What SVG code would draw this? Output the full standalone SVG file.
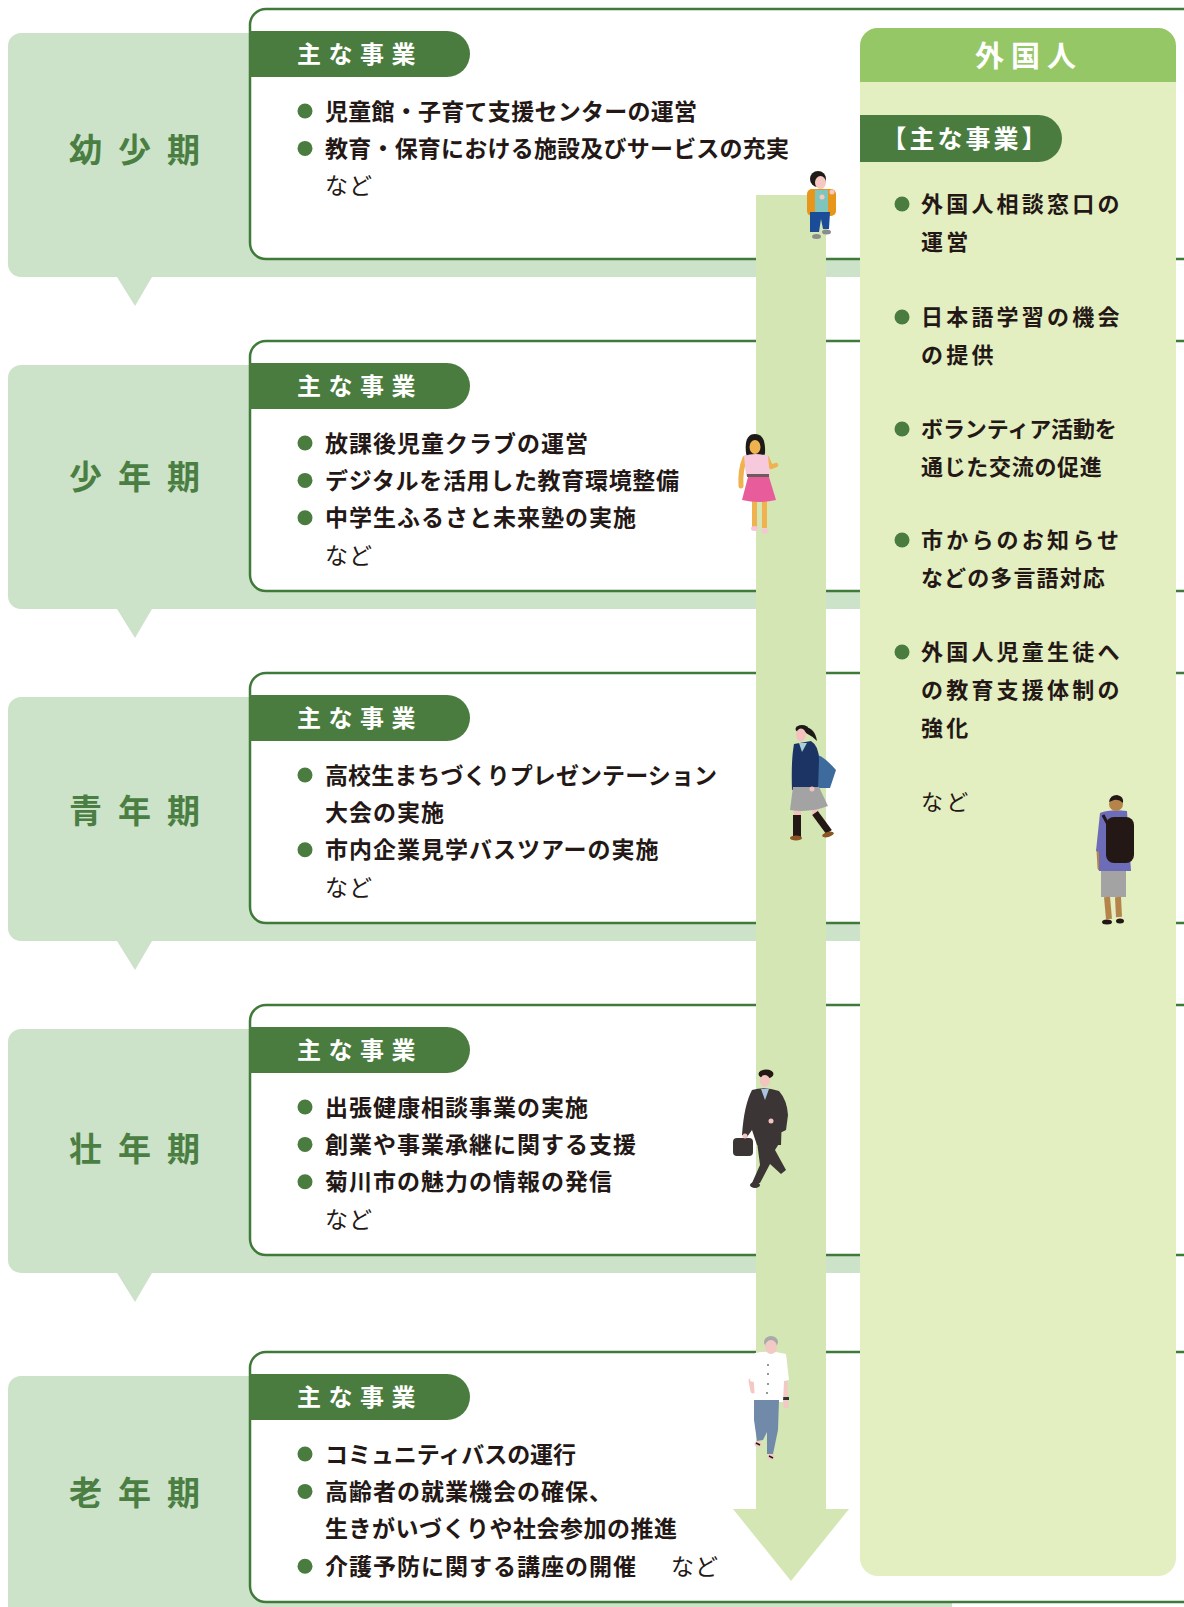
<svg xmlns="http://www.w3.org/2000/svg" width="1184" height="1607" viewBox="0 0 1184 1607">
<defs>
<style>
text{font-family:"Noto Sans CJK JP","Noto Sans",sans-serif}
.callout{fill:#cce3c9}
.card{fill:#ffffff;stroke:#3f7a39;stroke-width:2.5}
.tab{fill:#4a7c3f}
.tabt{fill:#ffffff;font-size:24px;font-weight:700;letter-spacing:7.5px}
.lbl{fill:#4b7e42;font-size:33px;font-weight:700;letter-spacing:16px}
.dot{fill:#4a7c3f}
.item{fill:#231815;font-size:23px;font-weight:700;letter-spacing:1px}
.etc{fill:#231815;font-size:23px;font-weight:400;letter-spacing:1px}
.fitem{fill:#231815;font-size:22px;font-weight:700;letter-spacing:3.2px}
.fetc{fill:#231815;font-size:22px;font-weight:400;letter-spacing:3.2px}
</style>
<!-- speech-bubble background with downward pointer -->
<path id="bubble" d="M21 24 H939 A13 13 0 0 1 952 37 V255 A13 13 0 0 1 939 268 H152 L135 297 L117 268 H21 A13 13 0 0 1 8 255 V37 A13 13 0 0 1 21 24 Z"/>
<!-- last bubble: no pointer, runs off the bottom -->
<path id="bubble-end" d="M21 24 H939 A13 13 0 0 1 952 37 V330 H8 V37 A13 13 0 0 1 21 24 Z"/>
<rect id="card" x="250" y="0" width="950" height="250" rx="16"/>
<path id="tab" d="M249 22 H447 A23 23 0 0 1 447 68 H249 Z"/>
</defs>

<!-- life stages -->
<g id="stage-infant" transform="translate(0,9)">
  <use href="#bubble" class="callout"/>
  <use href="#card" class="card"/>
  <use href="#tab" class="tab"/>
  <text class="tabt" x="297" y="54">主な事業</text>
  <text class="lbl" x="69" y="153">幼少期</text>
  <circle class="dot" cx="305" cy="102" r="7.5"/>
  <text class="item" x="325" y="110.5" textLength="373" lengthAdjust="spacing">児童館・子育て支援センターの運営</text>
  <circle class="dot" cx="305" cy="139.4" r="7.5"/>
  <text class="item" x="325" y="148" textLength="465" lengthAdjust="spacing">教育・保育における施設及びサービスの充実</text>
  <text class="etc" x="325" y="185.3">など</text>
</g>

<g id="stage-child" transform="translate(0,341)">
  <use href="#bubble" class="callout"/>
  <use href="#card" class="card"/>
  <use href="#tab" class="tab"/>
  <text class="tabt" x="297" y="54">主な事業</text>
  <text class="lbl" x="69" y="148">少年期</text>
  <circle class="dot" cx="305" cy="102" r="7.5"/>
  <text class="item" x="325" y="110.5">放課後児童クラブの運営</text>
  <circle class="dot" cx="305" cy="139.4" r="7.5"/>
  <text class="item" x="325" y="148" textLength="355" lengthAdjust="spacing">デジタルを活用した教育環境整備</text>
  <circle class="dot" cx="305" cy="176.8" r="7.5"/>
  <text class="item" x="325" y="185.3">中学生ふるさと未来塾の実施</text>
  <text class="etc" x="325" y="222.7">など</text>
</g>

<g id="stage-youth" transform="translate(0,673)">
  <use href="#bubble" class="callout"/>
  <use href="#card" class="card"/>
  <use href="#tab" class="tab"/>
  <text class="tabt" x="297" y="54">主な事業</text>
  <text class="lbl" x="69" y="150">青年期</text>
  <circle class="dot" cx="305" cy="102" r="7.5"/>
  <text class="item" x="325" y="110.5" textLength="393" lengthAdjust="spacing">高校生まちづくりプレゼンテーション</text>
  <text class="item" x="325" y="148">大会の実施</text>
  <circle class="dot" cx="305" cy="176.8" r="7.5"/>
  <text class="item" x="325" y="185.3">市内企業見学バスツアーの実施</text>
  <text class="etc" x="325" y="222.7">など</text>
</g>

<g id="stage-adult" transform="translate(0,1005)">
  <use href="#bubble" class="callout"/>
  <use href="#card" class="card"/>
  <use href="#tab" class="tab"/>
  <text class="tabt" x="297" y="54">主な事業</text>
  <text class="lbl" x="69" y="156">壮年期</text>
  <circle class="dot" cx="305" cy="102" r="7.5"/>
  <text class="item" x="325" y="110.5">出張健康相談事業の実施</text>
  <circle class="dot" cx="305" cy="139.4" r="7.5"/>
  <text class="item" x="325" y="148">創業や事業承継に関する支援</text>
  <circle class="dot" cx="305" cy="176.8" r="7.5"/>
  <text class="item" x="325" y="185.3">菊川市の魅力の情報の発信</text>
  <text class="etc" x="325" y="222.7">など</text>
</g>

<g id="stage-senior" transform="translate(0,1352)">
  <use href="#bubble-end" class="callout"/>
  <use href="#card" class="card"/>
  <use href="#tab" class="tab"/>
  <text class="tabt" x="297" y="54">主な事業</text>
  <text class="lbl" x="69" y="153">老年期</text>
  <circle class="dot" cx="305" cy="102" r="7.5"/>
  <text class="item" x="325" y="110.5" textLength="252" lengthAdjust="spacing">コミュニティバスの運行</text>
  <circle class="dot" cx="305" cy="139.4" r="7.5"/>
  <text class="item" x="325" y="148">高齢者の就業機会の確保、</text>
  <text class="item" x="325" y="185.3" textLength="353" lengthAdjust="spacing">生きがいづくりや社会参加の推進</text>
  <circle class="dot" cx="305" cy="214.2" r="7.5"/>
  <text class="item" x="325" y="222.7">介護予防に関する講座の開催</text>
  <text class="etc" x="671" y="222.7">など</text>
</g>

<!-- timeline arrow running through all stages -->
<g id="connectors">
  <polygon id="timeline" points="756,195 826,195 826,1509 849,1509 791,1581 733,1509 756,1509" fill="#d3e6b3"/>
</g>

<!-- foreign residents column -->
<g id="foreign-residents">
  <path d="M878 28 H1158 A18 18 0 0 1 1176 46 V1558 A18 18 0 0 1 1158 1576 H878 A18 18 0 0 1 860 1558 V46 A18 18 0 0 1 878 28 Z" fill="#e3eec1"/>
  <path d="M878 28 H1158 A18 18 0 0 1 1176 46 V82 H860 V46 A18 18 0 0 1 878 28 Z" fill="#96c766"/>
  <text x="975" y="67" fill="#ffffff" font-size="29" font-weight="700" letter-spacing="7">外国人</text>
  <path class="tab" d="M860 115 H1038.5 A23.5 23.5 0 0 1 1038.5 162 H860 Z"/>
  <text x="881.5" y="148" fill="#ffffff" font-size="25" font-weight="700" letter-spacing="3">【主な事業】</text>
  <circle class="dot" cx="902" cy="204" r="7.5"/>
  <text class="fitem" x="921" y="212">外国人相談窓口の</text>
  <text class="fitem" x="921" y="250">運営</text>
  <circle class="dot" cx="902" cy="317" r="7.5"/>
  <text class="fitem" x="921" y="325">日本語学習の機会</text>
  <text class="fitem" x="921" y="363">の提供</text>
  <circle class="dot" cx="902" cy="429" r="7.5"/>
  <text class="fitem" x="921" y="437" textLength="199" lengthAdjust="spacing">ボランティア活動を</text>
  <text class="fitem" x="921" y="475" textLength="184" lengthAdjust="spacing">通じた交流の促進</text>
  <circle class="dot" cx="902" cy="540" r="7.5"/>
  <text class="fitem" x="921" y="548">市からのお知らせ</text>
  <text class="fitem" x="921" y="586" textLength="187" lengthAdjust="spacing">などの多言語対応</text>
  <circle class="dot" cx="902" cy="652" r="7.5"/>
  <text class="fitem" x="921" y="660">外国人児童生徒へ</text>
  <text class="fitem" x="921" y="698">の教育支援体制の</text>
  <text class="fitem" x="921" y="736">強化</text>
  <text class="fetc" x="921" y="810">など</text>
</g>

<!-- people walking along the timeline -->
<g id="fig-infant">
  <rect x="807" y="189" width="29" height="27" rx="5" fill="#e8951c"/>
  <rect x="815" y="190" width="13" height="23" fill="#7fc5bb"/>
  <path d="M810 212 H830 L829 229 H823 L821 219 L819 232 H810 Z" fill="#1a4c98"/>
  <ellipse cx="816.5" cy="236.5" rx="4.5" ry="2.5" fill="#8c8c8c"/>
  <ellipse cx="826.5" cy="232" rx="4.5" ry="2.5" fill="#8c8c8c"/>
  <circle cx="818" cy="179" r="8" fill="#1e1a18"/>
  <ellipse cx="820.5" cy="182.5" rx="5.5" ry="6.5" fill="#f6c8c3"/>
  <circle cx="832" cy="192" r="2.5" fill="#f6c8c3"/>
  <circle cx="822" cy="197" r="2.5" fill="#f6c8c3"/>
</g>

<g id="fig-child">
  <path d="M746 453 Q744 434 755 434 Q766 434 765 453 L764 457 H747 Z" fill="#1e1a18"/>
  <ellipse cx="755" cy="447" rx="5.5" ry="7" fill="#efb24f"/>
  <path d="M745 458 Q740 470 741 486" fill="none" stroke="#efb24f" stroke-width="5" stroke-linecap="round"/>
  <path d="M767 458 L771 467 L776 465" fill="none" stroke="#efb24f" stroke-width="4.5" stroke-linecap="round" stroke-linejoin="round"/>
  <path d="M744 456 Q755 452 768 456 L770 476 H746 Z" fill="#f7c9dc"/>
  <rect x="747" y="474" width="22" height="3" fill="#6e5b5b"/>
  <rect x="752" y="500" width="5" height="27" fill="#efb24f"/>
  <rect x="762" y="500" width="5" height="28" fill="#efb24f"/>
  <path d="M748 477 H769 L776 500 Q759 504 742 500 Z" fill="#e85c9b"/>
  <ellipse cx="754.5" cy="528.5" rx="3.5" ry="2.5" fill="#f6c5d8"/>
  <ellipse cx="765" cy="531" rx="3.5" ry="2.5" fill="#f6c5d8"/>
</g>

<g id="fig-youth">
  <path d="M808 743 L816 757" stroke="#3e6b9d" stroke-width="2"/>
  <path d="M813 754 Q821 753 836 770 L830 788 H814 Z" fill="#3e6b9d"/>
  <path d="M794 744 L811 741 Q819 746 819 760 L818 790 H792 Q791 760 794 744 Z" fill="#1b3464"/>
  <path d="M799 743 H807 L802 752 Z" fill="#a8cfd8"/>
  <rect x="794" y="808" width="7" height="8" fill="#f3c2be"/>
  <rect x="812" y="808" width="7" height="7" fill="#f3c2be"/>
  <rect x="793" y="815" width="8" height="22" fill="#231815"/>
  <path d="M815 813 L829 832" stroke="#231815" stroke-width="7"/>
  <path d="M793 787 H819 L828 806 Q810 813 790 810 Z" fill="#a3a3a3"/>
  <circle cx="812" cy="789" r="2.5" fill="#f3c2be"/>
  <ellipse cx="796" cy="838" rx="6" ry="2.5" fill="#8b5522"/>
  <ellipse cx="828" cy="834.5" rx="6" ry="2.5" fill="#8b5522" transform="rotate(-15 828 834.5)"/>
  <path d="M805 727 Q815 728 817 741 Q812 736 806 733 Z" fill="#1e1a18"/>
  <ellipse cx="802" cy="729" rx="6.5" ry="4" fill="#1e1a18"/>
  <ellipse cx="801" cy="735" rx="5" ry="6.5" fill="#f3c2be"/>
</g>

<g id="fig-adult">
  <path d="M757 1142 L760 1165 L752 1183 H760 L770 1164 L781 1174 L786 1170 L775 1150 L780 1142 Z" fill="#3b3535"/>
  <ellipse cx="755" cy="1185" rx="5" ry="3" fill="#3b3535"/>
  <path d="M752 1090 Q765 1086 779 1091 Q787 1100 788 1115 L786 1130 L780 1133 L782 1115 L781 1145 H757 L752 1130 L747 1137 L742 1135 Q744 1105 752 1090 Z" fill="#3b3535"/>
  <path d="M761 1089 H769 L765 1100 Z" fill="#a9c4e0"/>
  <rect x="733" y="1138" width="20" height="18" rx="4" fill="#3b3535"/>
  <circle cx="745" cy="1136" r="2.5" fill="#f3c4c0"/>
  <circle cx="771" cy="1121" r="2.5" fill="#f3c4c0"/>
  <ellipse cx="766" cy="1074" rx="7.5" ry="4.5" fill="#231815"/>
  <ellipse cx="765" cy="1081" rx="5" ry="6" fill="#f3c4c0"/>
</g>

<g id="fig-senior">
  <path d="M751 1381 L753 1391" stroke="#f3c9c5" stroke-width="5" stroke-linecap="round"/>
  <path d="M785 1381 L786 1406" stroke="#f3c9c5" stroke-width="5" stroke-linecap="round"/>
  <rect x="783" y="1397" width="6" height="3" fill="#333333"/>
  <path d="M755 1353 Q771 1350 786 1354 L789 1380 L784 1381 L783 1402 H755 L754 1382 L750 1381 Z" fill="#ffffff"/>
  <circle cx="768" cy="1365" r="0.9" fill="#5e6b60"/>
  <circle cx="768" cy="1374" r="0.9" fill="#5e6b60"/>
  <circle cx="768" cy="1384" r="0.9" fill="#5e6b60"/>
  <circle cx="767" cy="1393" r="0.9" fill="#5e6b60"/>
  <path d="M754 1400 H779 L778 1430 L773 1454 L767 1454 L767 1432 L763 1440 L757 1441 L754 1420 Z" fill="#728aa9"/>
  <ellipse cx="758" cy="1444" rx="3.5" ry="3" fill="#f3c9c5"/>
  <ellipse cx="771" cy="1457" rx="3.5" ry="3" fill="#f3c9c5"/>
  <path d="M756 1443 L760 1445 M769 1456 L773 1458" stroke="#231815" stroke-width="1.5"/>
  <ellipse cx="771" cy="1342" rx="7" ry="6" fill="#a9a9a9"/>
  <ellipse cx="771" cy="1347" rx="6" ry="7" fill="#f3c9c5"/>
</g>

<g id="fig-foreign">
  <rect x="1101" y="870" width="25" height="27" fill="#a3a3a3"/>
  <path d="M1107 897 L1109 919 M1118 897 L1119 917" stroke="#b5844b" stroke-width="6"/>
  <ellipse cx="1107" cy="922" rx="5" ry="2.5" fill="#231815"/>
  <ellipse cx="1120" cy="921" rx="4" ry="2.5" fill="#231815"/>
  <path d="M1099 850 L1100 868" stroke="#b5844b" stroke-width="5" stroke-linecap="round"/>
  <path d="M1100 813 Q1110 809 1127 811 L1131 871 H1099 L1099 852 L1096 851 Z" fill="#6d6cb8"/>
  <rect x="1106" y="817" width="28" height="46" rx="8" fill="#231815"/>
  <path d="M1103 815 L1112 832" stroke="#231815" stroke-width="3"/>
  <circle cx="1116" cy="804" r="7" fill="#b5844b"/>
  <path d="M1109 802 Q1110 795 1117 795 Q1124 796 1123 803 Q1119 799 1114 800 Z" fill="#231815"/>
</g>
</svg>
